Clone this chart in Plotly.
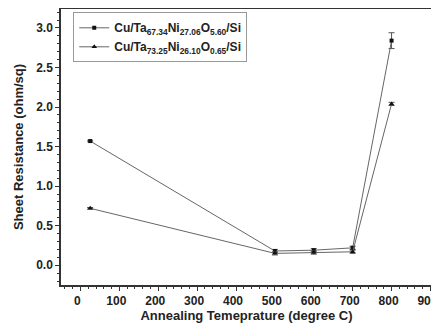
import plotly.graph_objects as go

temps = [25, 500, 600, 700, 800]
r_ta67 = [1.57, 0.18, 0.19, 0.22, 2.84]
err_ta67 = [0.01, 0.02, 0.02, 0.02, 0.10]
r_ta73 = [0.72, 0.15, 0.16, 0.17, 2.04]
err_ta73 = [0.01, 0.02, 0.02, 0.02, 0.02]
name1 = "Cu/Ta<sub>67.34</sub>Ni<sub>27.06</sub>O<sub>5.60</sub>/Si"
name2 = "Cu/Ta<sub>73.25</sub>Ni<sub>26.10</sub>O<sub>0.65</sub>/Si"

fig = go.Figure()
fig.add_trace(go.Scatter(
    x=temps, y=r_ta67, name=name1, mode="lines+markers",
    line=dict(color="#666666", width=1),
    marker=dict(symbol="square", size=4, color="#111111"),
    error_y=dict(type="data", array=err_ta67, color="#555555", thickness=1, width=3),
))
fig.add_trace(go.Scatter(
    x=temps, y=r_ta73, name=name2, mode="lines+markers",
    line=dict(color="#666666", width=1),
    marker=dict(symbol="triangle-up", size=5, color="#111111"),
    error_y=dict(type="data", array=err_ta73, color="#555555", thickness=1, width=3),
))

axis_common = dict(
    showline=True, linecolor="#333333", linewidth=1.5, mirror=True,
    ticks="outside", ticklen=4, tickcolor="#333333", tickwidth=1,
    showgrid=False, zeroline=False, automargin=False,
    ticklabeloverflow="allow",
    tickfont=dict(family="Liberation Sans, Arial", size=12, color="#222222", weight="bold"),
    minor=dict(ticks="outside", ticklen=2, tickcolor="#333333"),
)

# the page body adds an 8px offset; size the figure to fit the 439x324 window
fig.update_layout(
    width=431, height=316,
    margin=dict(l=53, r=7, t=1, b=39),
    paper_bgcolor="white", plot_bgcolor="white",
    font=dict(family="Liberation Sans, Arial", color="#222222"),
    xaxis=dict(range=[-50, 904], dtick=100, tick0=0, ticklabelshift=-3,
               title=dict(text="<b>Annealing Temeprature (degree C)</b>",
                          font=dict(size=13), standoff=0),
               **axis_common),
    yaxis=dict(range=[-0.25, 3.24], dtick=0.5, tick0=0, tickformat=".1f",
               title=dict(text="<b>Sheet Resistance (ohm/sq)</b>", font=dict(size=13), standoff=10),
               **axis_common),
    legend=dict(x=0.033, y=0.988, xanchor="left", yanchor="top",
                bordercolor="#999999", borderwidth=1, bgcolor="white",
                font=dict(size=12, family="Liberation Sans, Arial", weight="bold"),
                tracegroupgap=0, itemwidth=30),
    showlegend=True,
)

fig.write_html("out.html")
